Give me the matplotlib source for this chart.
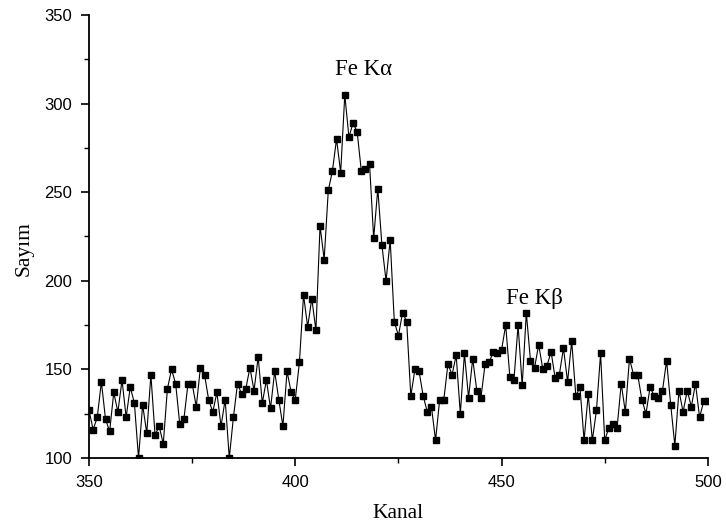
import numpy as np
import matplotlib
matplotlib.use("Agg")
import matplotlib.pyplot as plt
from matplotlib.ticker import MultipleLocator

# channel numbers and counts
kanal = np.arange(350, 501)
sayim = [127, 116, 123, 143, 122, 115, 137, 126, 144, 123,
         140, 131, 100, 130, 114, 147, 113, 118, 108, 139,
         150, 142, 119, 122, 142, 142, 129, 151, 147, 133,
         126, 137, 118, 133, 100, 123, 142, 136, 139, 151,
         138, 157, 131, 144, 128, 149, 133, 118, 149, 137,
         133, 154, 192, 174, 190, 172, 231, 212, 251, 262,
         280, 261, 305, 281, 289, 284, 262, 263, 266, 224,
         252, 220, 200, 223, 177, 169, 182, 177, 135, 150,
         149, 135, 126, 129, 110, 133, 133, 153, 147, 158,
         125, 159, 134, 156, 138, 134, 153, 154, 160, 159,
         161, 175, 146, 144, 175, 141, 182, 155, 151, 164,
         150, 152, 160, 145, 147, 162, 143, 166, 135, 140,
         110, 136, 110, 127, 159, 110, 117, 119, 117, 142,
         126, 156, 147, 147, 133, 125, 140, 135, 134, 138,
         155, 130, 107, 138, 126, 138, 129, 142, 123, 132,
         132]

peak_labels = ["Fe K\u03b1", "Fe K\u03b2"]
peak_pos = [(416.5, 319), (458, 190)]

fig = plt.figure(figsize=(7.26, 5.32), dpi=100)
ax = fig.add_axes([0.1226, 0.139, 0.8524, 0.833])

ax.plot(kanal, sayim, '-', color='black', lw=0.8,
        marker='s', markersize=4.5, markerfacecolor='black', markeredgecolor='black')

ax.set_xlim(350, 500)
ax.set_ylim(100, 350)
ax.xaxis.set_major_locator(MultipleLocator(50))
ax.xaxis.set_minor_locator(MultipleLocator(25))
ax.yaxis.set_major_locator(MultipleLocator(50))
ax.yaxis.set_minor_locator(MultipleLocator(25))

for s in ['top', 'right']:
    ax.spines[s].set_visible(False)
for s in ['left', 'bottom']:
    ax.spines[s].set_linewidth(1.3)

ax.tick_params(which='major', direction='out', length=6, width=1.2,
               labelsize=12, labelfontfamily='Liberation Sans')
ax.tick_params(axis='x', which='major', pad=6)
ax.tick_params(axis='y', which='major', pad=6)
ax.tick_params(which='minor', direction='out', length=3.5, width=1.0)

ax.set_xlabel('Kanal', family='Liberation Serif', fontsize=15.5, va='center')
ax.set_ylabel('Say\u0131m', family='Liberation Serif', fontsize=15.5, va='center')
ax.xaxis.set_label_coords(0.5, -0.124)
ax.yaxis.set_label_coords(-0.105, 0.472)

for lab, (x, y) in zip(peak_labels, peak_pos):
    ax.text(x, y, lab, family='Liberation Serif', fontsize=16.5, ha='center', va='center')

fig.savefig('out.png', dpi=100)
